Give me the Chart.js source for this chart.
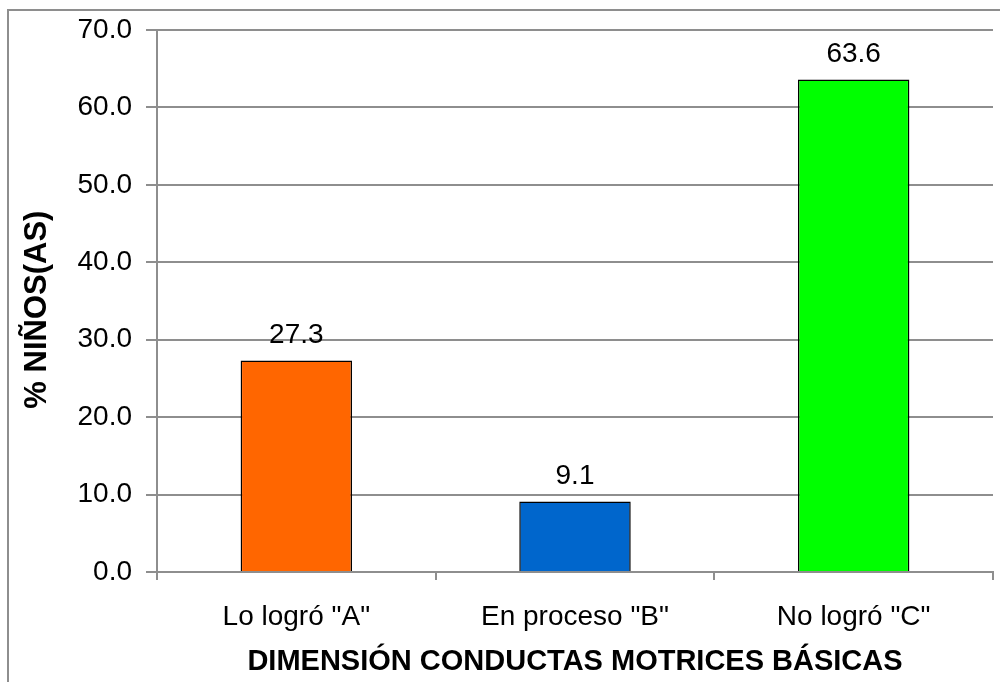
<!DOCTYPE html>
<html>
<head>
<meta charset="utf-8">
<script src="https://cdn.jsdelivr.net/npm/chart.js@4"></script>
<style>
  html, body { margin: 0; padding: 0; background: #fff; }
  #wrap { width: 1000px; height: 682px; position: relative; }
</style>
</head>
<body>
<div id="wrap"><canvas id="chart"></canvas></div>
<script>
var categories = ['Lo logró "A"', 'En proceso "B"', 'No logró "C"'];
var values = [27.3, 9.1, 63.6];
var barColors = ['#FF6600', '#0066CC', '#00FF00'];
var yTicks = [0, 10, 20, 30, 40, 50, 60, 70];

var FONT = '"Liberation Sans", Arial, sans-serif';
var GRID = '#8e8e8e';

// frame around the chart (only left and top edges are visible)
var framePlugin = {
    id: 'frame',
    beforeDraw: function (chart) {
        var ctx = chart.ctx;
        ctx.save();
        ctx.fillStyle = '#fff';
        ctx.fillRect(0, 0, chart.width, chart.height);
        ctx.strokeStyle = GRID;
        ctx.lineWidth = 2;
        ctx.beginPath();
        ctx.moveTo(8, chart.height);
        ctx.lineTo(8, 10);
        ctx.lineTo(chart.width, 10);
        ctx.stroke();
        ctx.restore();
    }
};

// value labels above bars
var labelPlugin = {
    id: 'barLabels',
    afterDatasetsDraw: function (chart) {
        var ctx = chart.ctx;
        var meta = chart.getDatasetMeta(0);
        ctx.save();
        ctx.font = '28px ' + FONT;
        ctx.fillStyle = '#000';
        ctx.textAlign = 'center';
        ctx.textBaseline = 'alphabetic';
        meta.data.forEach(function (bar, i) {
            ctx.fillText(values[i].toFixed(1), bar.x, bar.y - 18);
        });
        ctx.restore();
    }
};

new Chart(document.getElementById('chart').getContext('2d'), {
    type: 'bar',
    data: {
        labels: categories,
        datasets: [{
            data: values,
            backgroundColor: barColors,
            borderColor: '#000',
            borderWidth: 1.5,
            categoryPercentage: 1,
            barPercentage: 0.4
        }]
    },
    options: {
        responsive: true,
        maintainAspectRatio: false,
        animation: false,
        layout: { padding: { left: 10, right: 7, top: 30, bottom: 0 } },
        plugins: {
            legend: { display: false },
            tooltip: { enabled: false }
        },
        scales: {
            x: {
                grid: { display: true, drawOnChartArea: false, drawTicks: true, tickLength: 8, offset: true, color: GRID, lineWidth: 2 },
                border: { color: GRID, width: 2 },
                ticks: { color: '#000', font: { family: FONT, size: 28 }, padding: 20 },
                title: {
                    display: true,
                    text: 'DIMENSIÓN CONDUCTAS MOTRICES BÁSICAS',
                    color: '#000',
                    font: { family: FONT, size: 29, weight: 'bold' },
                    padding: { top: 0, bottom: 3 }
                },
                afterFit: function (scale) {
                    scale.height = 110;
                    scale.paddingLeft = 0;
                    scale.paddingRight = 0;
                }
            },
            y: {
                min: 0,
                max: 70,
                afterBuildTicks: function (scale) {
                    scale.ticks = yTicks.map(function (v) { return { value: v }; });
                },
                grid: { color: GRID, lineWidth: 2, tickLength: 11 },
                border: { color: GRID, width: 2 },
                ticks: {
                    color: '#000',
                    font: { family: FONT, size: 28 },
                    padding: 14,
                    callback: function (v) { return Number(v).toFixed(1); }
                },
                title: {
                    display: true,
                    text: '% NIÑOS(AS)  ',
                    color: '#000',
                    font: { family: FONT, size: 31, weight: 'bold' },
                    padding: { top: 9, bottom: 0 }
                },
                afterFit: function (scale) {
                    scale.width = 147;
                    scale.paddingTop = 0;
                    scale.paddingBottom = 0;
                }
            }
        }
    },
    plugins: [framePlugin, labelPlugin]
});
</script>
</body>
</html>
